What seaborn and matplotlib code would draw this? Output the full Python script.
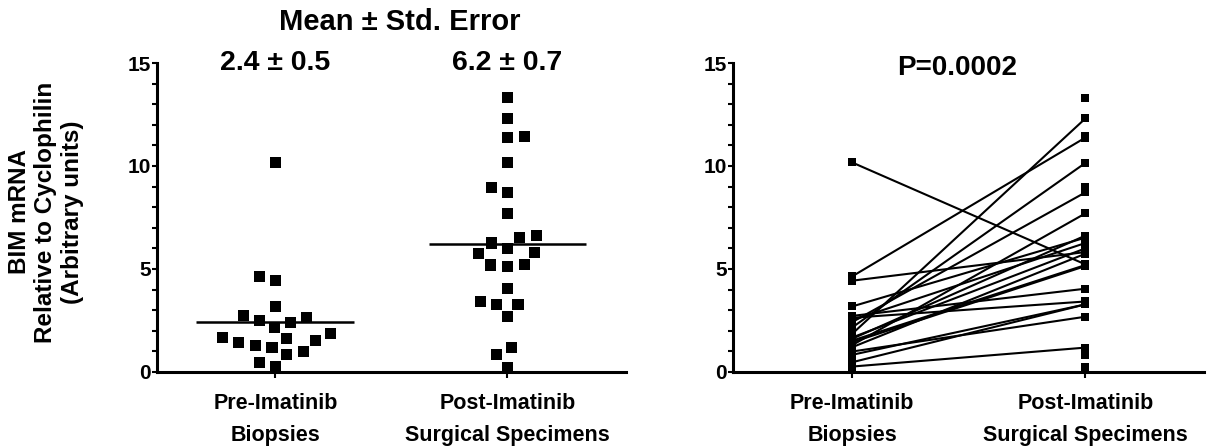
import matplotlib
matplotlib.use("Agg")
import matplotlib.pyplot as plt
from matplotlib.ticker import MultipleLocator
import seaborn as sns
import pandas as pd
import numpy as np

# --- Data -----------------------------------------------------------------
categories = ["Pre-Imatinib\nBiopsies", "Post-Imatinib\nSurgical Specimens"]

# pre-imatinib values (one per patient)
pre_values = [10.17, 4.64, 4.43, 3.18, 2.72, 2.63, 2.51, 2.42, 2.16, 1.85,
              1.67, 1.61, 1.52, 1.44, 1.30, 1.20, 0.99, 0.83, 0.47, 0.26]
# post-imatinib values paired with pre_values (same order)
post_paired = [5.22, 11.38, 5.82, 6.52, 4.04, 3.42, 6.26, 8.72, 10.15, 12.31,
               6.00, 6.62, 5.19, 5.14, 7.70, 5.74, 2.68, 3.28, 3.28, 1.18]
# post-imatinib specimens without a matching biopsy
post_unpaired = [13.31, 11.45, 8.97, 0.83, 0.23]

mean_labels = ["2.4 ± 0.5", "6.2 ± 0.7"]
title_text = "Mean ± Std. Error"
p_text = "P=0.0002"
y_label = "BIM mRNA\nRelative to Cyclophilin\n(Arbitrary units)"

# --- Style -----------------------------------------------------------------
sns.set_style("ticks")
plt.rcParams['font.family'] = ['Liberation Sans', 'DejaVu Sans']
plt.rcParams['font.weight'] = 'bold'
for key in ["text.color", "axes.labelcolor", "axes.edgecolor",
            "xtick.color", "ytick.color"]:
    plt.rcParams[key] = "black"

post_all = post_paired + post_unpaired
swarm_df = pd.DataFrame({
    "group": [categories[0]] * len(pre_values) + [categories[1]] * len(post_all),
    "value": pre_values + post_all,
})

n = len(pre_values)
pairs_df = pd.DataFrame({
    "pair": list(range(n)) * 2,
    "group": [categories[0]] * n + [categories[1]] * n,
    "value": pre_values + post_paired,
})
pairs_df["pos"] = pairs_df["group"].map({c: i for i, c in enumerate(categories)})
extra_df = pd.DataFrame({"group": [categories[1]] * len(post_unpaired), "value": post_unpaired})
extra_df["pos"] = extra_df["group"].map({c: i for i, c in enumerate(categories)})

fig = plt.figure(figsize=(12.08, 4.47), dpi=100)
ax1 = fig.add_axes([0.130, 0.168, 0.388, 0.691])
ax2 = fig.add_axes([0.607, 0.168, 0.390, 0.691])

# --- Left: scatter of both groups with mean lines -----------------------------
sns.swarmplot(data=swarm_df, x="group", y="value", order=categories, ax=ax1,
              color="black", marker="s", size=8, linewidth=3.5, edgecolor="none",
              zorder=4, clip_on=False)
for i, vals in enumerate([pre_values, post_all]):
    ax1.hlines(np.mean(vals), i - 0.34, i + 0.34, color="black", lw=1.8, zorder=3)
    ax1.text(i, 15, mean_labels[i], ha="center", va="center", fontsize=20.5,
             fontweight="bold")

# --- Right: paired before/after lines -----------------------------------------
sns.lineplot(data=pairs_df, x="pos", y="value", units="pair", estimator=None,
             color="black", lw=1.5, marker="s", markersize=5.5,
             markeredgewidth=0, ax=ax2, legend=False, clip_on=False)
sns.scatterplot(data=extra_df, x="pos", y="value", color="black", marker="s",
                s=30, linewidth=0, ax=ax2, legend=False, clip_on=False)
ax2.text(0.45, 14.75, p_text, ha="center", va="center", fontsize=20,
         fontweight="bold")


def style_axis(ax):
    ax.set_xlim(-0.51, 1.51)
    ax.set_ylim(0, 15)
    ax.yaxis.set_major_locator(MultipleLocator(5))
    ax.yaxis.set_minor_locator(MultipleLocator(1))
    ax.set_xticks([0, 1])
    ax.set_xticklabels(categories, fontsize=15.5, fontweight="bold", linespacing=1.72)
    ax.tick_params(axis="y", which="both", direction="out", length=3.5,
                   width=1.5, labelsize=15, pad=1)
    ax.tick_params(axis="x", direction="out", length=4, width=1.5, pad=11)
    for s in ["top", "right"]:
        ax.spines[s].set_visible(False)
    for s in ["left", "bottom"]:
        ax.spines[s].set_linewidth(2.2)
    ax.set_xlabel("")
    ax.set_ylabel("")


style_axis(ax1)
style_axis(ax2)

fig.text(400 / 1208, 1 - 22 / 447, title_text, ha="center", va="center",
         fontsize=21, fontweight="bold")
fig.text(46 / 1208, 1 - 212 / 447, y_label, rotation=90, ha="center",
         va="center", fontsize=17.5, fontweight="bold", multialignment="center",
         linespacing=1.2)

fig.savefig("out.png", dpi=100)
